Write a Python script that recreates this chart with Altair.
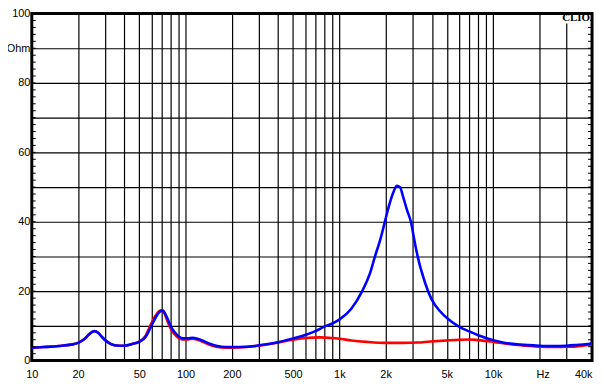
import altair as alt
import pandas as pd

# Blue curve (impedance, Ohm)
blue_f = [10, 12, 15, 18, 20, 22, 23.5, 25.5, 27, 28.6, 31, 34, 37, 40, 45, 50, 55, 58.6, 63, 68, 71,
          75, 81, 87, 96, 104, 111, 118, 128, 145, 158, 183, 200, 250, 300, 400, 500, 600, 700, 800,
          900, 1000, 1200, 1400, 1600, 1700, 1850, 1970, 2100, 2250, 2370, 2480, 2600, 2750, 2930,
          3080, 3240, 3530, 4000, 4500, 5170, 6000, 7000, 8000, 10000, 12000, 15000, 20000, 25000,
          30000, 35000, 40000, 44000]
blue_z = [3.7, 3.9, 4.2, 4.6, 5.1, 6.2, 7.5, 8.5, 8.0, 6.8, 5.4, 4.5, 4.3, 4.3, 4.8, 5.4, 6.8, 9.1, 11.9, 14.1, 14.4,
          12.8, 9.5, 7.6, 6.4, 6.4, 6.6, 6.4, 5.8, 4.8, 4.3, 3.9, 3.9, 4.0, 4.4, 5.3, 6.4, 7.4, 8.5, 9.8,
          10.7, 11.8, 15.0, 19.8, 25.8, 29.8, 35.0, 39.7, 44.5, 48.6, 50.4, 50.0, 47.2, 43.5, 39.7,
          34.5, 29.8, 23.8, 17.5, 14.3, 11.8, 9.8, 8.4, 7.3, 5.9, 5.1, 4.6, 4.3, 4.2,
          4.3, 4.5, 4.7, 5.0]

# Red curve
red_f = [10, 12, 15, 18, 20, 22, 23.5, 25.5, 27, 28.6, 31, 34, 37, 40, 45, 50, 55, 58.6, 63, 68, 70,
         73, 75, 81, 87, 96, 104, 111, 118, 128, 145, 158, 183, 200, 250, 300, 400, 500, 600, 750,
         900, 1000, 1200, 1500, 2000, 2600, 3200, 3900, 5000, 6000, 7000, 8000, 10000, 12500, 16500,
         20000, 25000, 30000, 35000, 40000, 44000]
red_z = [3.7, 3.9, 4.2, 4.6, 5.1, 6.2, 7.5, 8.5, 8.0, 6.8, 5.4, 4.5, 4.3, 4.3, 4.8, 5.5, 7.2, 9.8, 12.6, 14.4, 14.5,
         13.6, 12.2, 8.8, 7.1, 6.1, 6.1, 6.3, 6.1, 5.5, 4.5, 4.0, 3.7, 3.7, 3.9, 4.3, 5.2, 6.0, 6.5, 6.7,
         6.5, 6.3, 5.8, 5.4, 5.1, 5.1, 5.2, 5.5, 5.8, 6.0, 6.1, 5.9, 5.4, 4.8, 4.3,
         4.0, 3.9, 4.0, 4.1, 4.4, 4.7]

# Axis content
x_grid = [10, 20, 30, 40, 50, 60, 70, 80, 90, 100, 200, 300, 400, 500, 600, 700, 800, 900,
          1000, 2000, 3000, 4000, 5000, 6000, 7000, 8000, 9000, 10000, 20000, 30000]
x_label_vals = [10, 20, 50, 100, 200, 500, 1000, 2000, 5000, 10000, 21000, 44000]
x_label_txt = ["10", "20", "50", "100", "200", "500", "1k", "2k", "5k", "10k", "Hz", "40k"]
y_grid = [0, 10, 20, 30, 40, 50, 60, 70, 80, 90, 100]
y_label_txt = {0: "0", 20: "20", 40: "40", 60: "60", 80: "80", 90: "Ohm", 100: "100"}
y_minor = list(range(2, 100, 2))

W, H = 565, 350
FONT = "Liberation Sans"

df_blue = pd.DataFrame({"f": blue_f, "z": blue_z})
df_red = pd.DataFrame({"f": red_f, "z": red_z})
df_ticks = pd.DataFrame({"z": y_minor})

xscale = alt.Scale(type="log", domain=[10, 44000], nice=False)
yscale = alt.Scale(domain=[0, 100], nice=False, zero=False)

x_values = sorted(set(x_grid + x_label_vals))
x_expr = "".join(f"datum.value == {v} ? '{t}' : " for v, t in zip(x_label_vals, x_label_txt)) + "''"
y_expr = "".join(f"datum.value == {v} ? '{t}' : " for v, t in y_label_txt.items()) + "''"

x_axis = alt.Axis(
    values=x_values, labelExpr=x_expr, title=None, grid=True, gridColor="black", gridWidth=1.2,
    gridOpacity={"condition": {"test": "datum.value == 21000 || datum.value == 44000", "value": 0}, "value": 1},
    ticks=False, domain=False, labelFlush=False, labelOverlap=False,
    labelAlign={"condition": {"test": "datum.value == 44000", "value": "right"}, "value": "center"},
    labelPadding=8, labelFont=FONT, labelFontSize=11, labelColor="black",
)
y_axis = alt.Axis(
    values=y_grid, labelExpr=y_expr, title=None, grid=True, gridColor="black", gridWidth=1.2,
    gridOpacity=1, ticks=False, domain=False, labelFlush=False, labelOverlap=False,
    labelPadding=2, labelFont=FONT, labelFontSize=11, labelColor="black",
)

X = alt.X("f:Q", scale=xscale, axis=x_axis)
Y = alt.Y("z:Q", scale=yscale, axis=y_axis)

red = alt.Chart(df_red).mark_line(color="#ff0000", strokeWidth=2.6, interpolate="monotone").encode(x=X, y=Y)
blue = alt.Chart(df_blue).mark_line(color="#0000ff", strokeWidth=2.6, interpolate="monotone").encode(x=X, y=Y)
ticks_left = alt.Chart(df_ticks).mark_rule(color="black", strokeWidth=1).encode(
    y=Y, x=alt.value(0), x2=alt.value(4)
)
ticks_right = alt.Chart(df_ticks).mark_rule(color="black", strokeWidth=1).encode(
    y=Y, x=alt.value(W - 4), x2=alt.value(W)
)
clio_bg = alt.Chart(pd.DataFrame({"t": ["CLIO"]})).mark_rect(color="white").encode(
    x=alt.value(W - 36), x2=alt.value(W - 2), y=alt.value(2), y2=alt.value(10)
)
clio = alt.Chart(pd.DataFrame({"t": ["CLIO"]})).mark_text(
    align="right", baseline="alphabetic", font="Liberation Serif", fontWeight="bold",
    fontSize=11, color="black"
).encode(text="t:N", x=alt.value(W - 2), y=alt.value(8))

chart = alt.layer(red, blue, ticks_left, ticks_right, clio_bg, clio).properties(
    width=W, height=H,
    autosize=alt.AutoSizeParams(type="none"),
    padding={"left": 24, "top": 4, "right": 4, "bottom": 22},
).configure_view(stroke="black", strokeWidth=3)

chart.save("out.html", embed_options={"renderer": "svg", "actions": False})
